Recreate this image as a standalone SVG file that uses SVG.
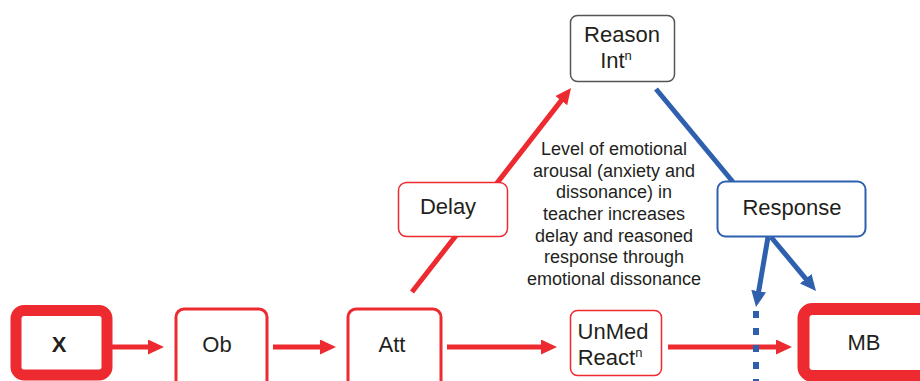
<svg xmlns="http://www.w3.org/2000/svg" width="920" height="381" viewBox="0 0 920 381">
<style>
text{font-family:"Liberation Sans",Arial,sans-serif;fill:#231f20;text-anchor:middle}
.n{font-size:22px}
.sup{font-size:13px}
.p{font-size:18px}
.red{stroke:#ec2a30;fill:#fff}
.redline{stroke:#ec2a30;stroke-width:5;fill:none}
.blueline{stroke:#2f60ae;stroke-width:5;fill:none}
</style>
<defs>
<marker id="ar" markerUnits="userSpaceOnUse" markerWidth="18" markerHeight="16" refX="6" refY="7.5" orient="auto"><path d="M0,0 L16,7.5 L0,15 z" fill="#ec2a30"/></marker>
<marker id="ab" markerUnits="userSpaceOnUse" markerWidth="18" markerHeight="16" refX="6" refY="7.5" orient="auto"><path d="M0,0 L16,7.5 L0,15 z" fill="#2f60ae"/></marker>
</defs>
<rect width="920" height="381" fill="#fff"/>
<g id="connectors">
<line class="redline" x1="112" y1="347" x2="154" y2="347" marker-end="url(#ar)"/>
<line class="redline" x1="273" y1="347" x2="326" y2="347" marker-end="url(#ar)"/>
<line class="redline" x1="447" y1="347" x2="547" y2="347" marker-end="url(#ar)"/>
<line class="redline" x1="668" y1="347" x2="782" y2="347" marker-end="url(#ar)"/>
<line class="redline" x1="412" y1="292" x2="564.9" y2="95.9" marker-end="url(#ar)"/>
<line class="blueline" x1="656" y1="89" x2="733" y2="182"/>
<line class="blueline" x1="768" y1="237" x2="757.7" y2="297.1" marker-end="url(#ab)"/>
<line class="blueline" x1="771" y1="237" x2="809.6" y2="283.3" marker-end="url(#ab)"/>
<line x1="756" y1="311" x2="756" y2="381" stroke="#2f60ae" stroke-width="6" stroke-dasharray="7 10"/>
</g>
<g id="X">
<rect x="16" y="310.5" width="91" height="64.5" rx="8" class="red" stroke-width="11"/>
<text class="n" x="59" y="352" font-weight="bold">X</text>
</g>
<g id="Ob">
<rect x="176" y="309" width="91" height="80" rx="8" class="red" stroke-width="3"/>
<text class="n" x="217" y="352">Ob</text>
</g>
<g id="Att">
<rect x="348" y="309" width="93" height="80" rx="8" class="red" stroke-width="3"/>
<text class="n" x="392" y="352">Att</text>
</g>
<g id="UnMed">
<rect x="570.5" y="310.5" width="91" height="65" rx="7" class="red" stroke-width="1.5"/>
<text class="n" x="613" y="339">UnMed</text>
<text class="n" x="610" y="365">React<tspan class="sup" dy="-8">n</tspan></text>
</g>
<g id="MB">
<rect x="803.5" y="309" width="160" height="67" rx="9" class="red" stroke-width="12"/>
<text class="n" x="864" y="350">MB</text>
</g>
<g id="Delay">
<rect x="398.5" y="182.5" width="109" height="54" rx="8" class="red" stroke-width="1.5"/>
<text class="n" x="448" y="214">Delay</text>
</g>
<g id="Reason">
<rect x="570.5" y="15.5" width="104" height="66" rx="7" fill="#fff" stroke="#555" stroke-width="1.5"/>
<text class="n" x="622" y="42">Reason</text>
<text class="n" x="616" y="68">Int<tspan class="sup" dy="-8">n</tspan></text>
</g>
<g id="Response">
<rect x="717.5" y="181.5" width="148" height="55" rx="8" fill="#fff" stroke="#2f60ae" stroke-width="2"/>
<text class="n" x="792" y="215">Response</text>
</g>
<g id="note">
<text class="p" x="614" y="155">Level of emotional</text>
<text class="p" x="614" y="176.7">arousal (anxiety and</text>
<text class="p" x="614" y="198.3">dissonance) in</text>
<text class="p" x="614" y="220">teacher increases</text>
<text class="p" x="614" y="241.7">delay and reasoned</text>
<text class="p" x="614" y="263.3">response through</text>
<text class="p" x="614" y="285">emotional dissonance</text>
</g>
</svg>
